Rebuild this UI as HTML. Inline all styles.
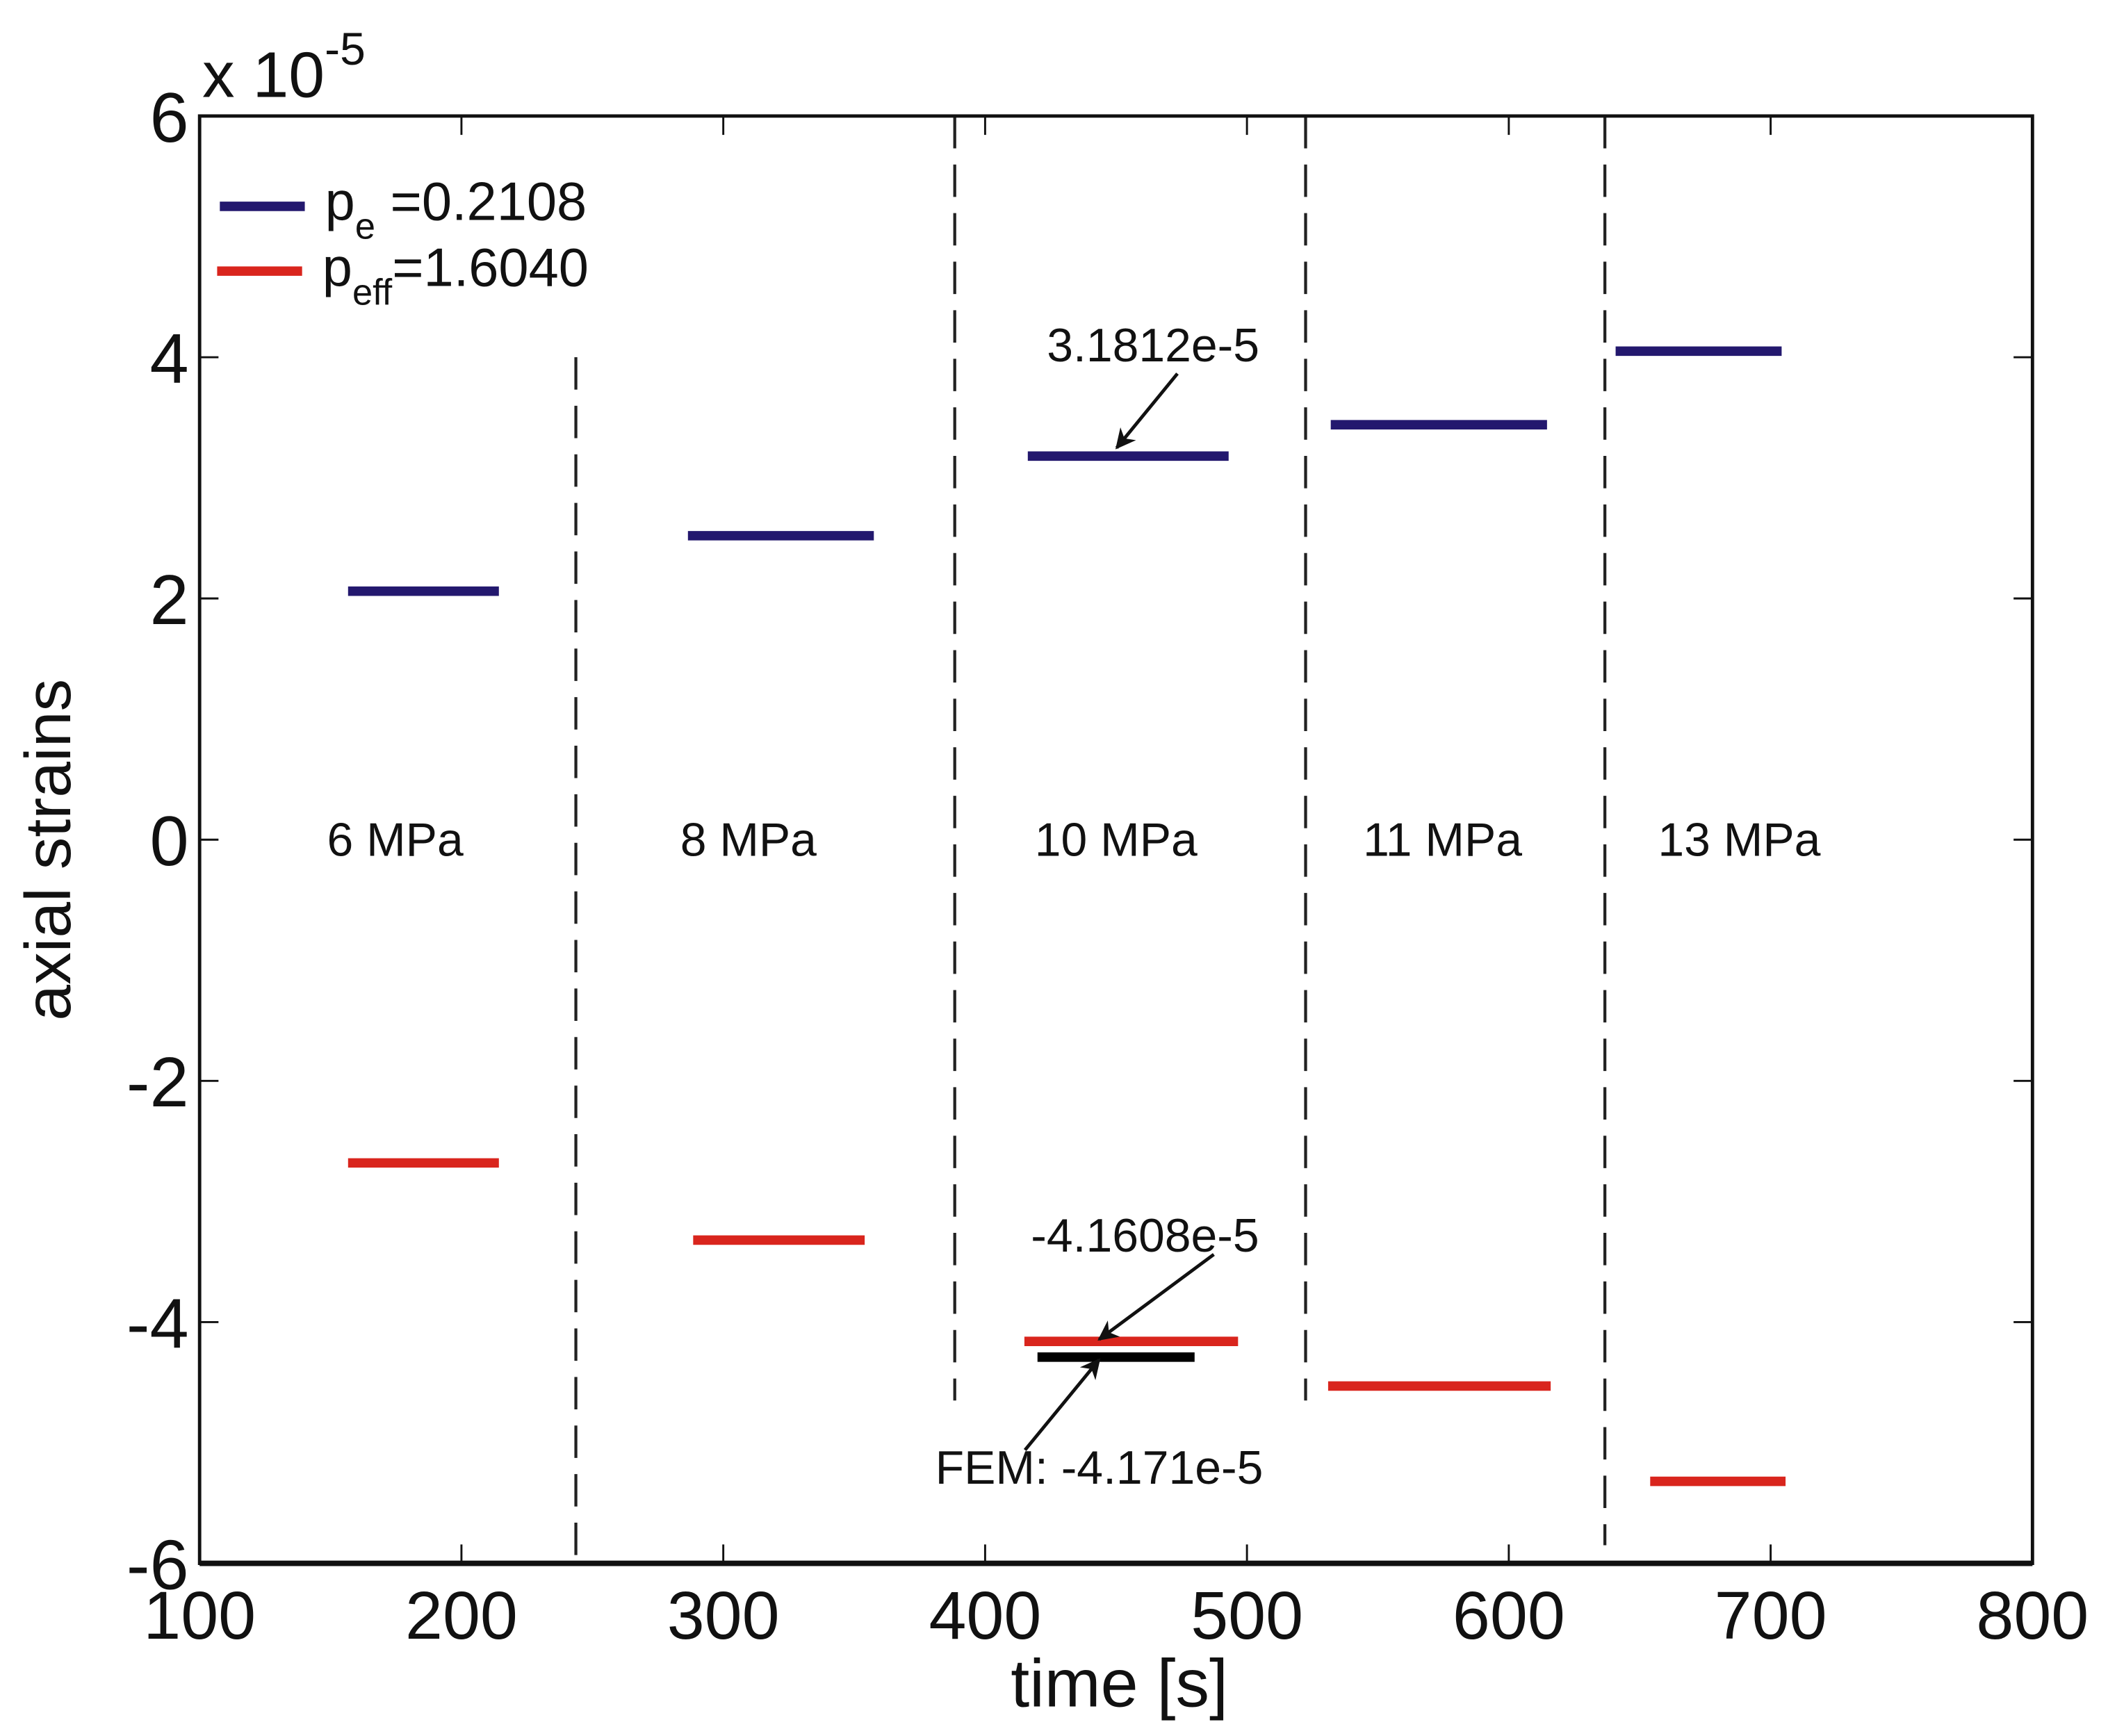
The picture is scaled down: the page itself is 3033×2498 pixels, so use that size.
<!DOCTYPE html>
<html><head><meta charset="utf-8"><style>
html,body{margin:0;padding:0;background:#fff;}
svg{display:block;}
text{font-family:"Liberation Sans",Arial,sans-serif;fill:#111;}
</style></head><body>
<svg id="chart" width="3033" height="2498" viewBox="0 0 1563 1287" preserveAspectRatio="none" xmlns="http://www.w3.org/2000/svg">
<g id="plot"></g>
</svg>
<script>
const xTicks=[100,200,300,400,500,600,700,800];
const yTicks=[-6,-4,-2,0,2,4,6];
const peStart=[156.7,286.5,416.3,532,640.8];
const peEnd=[214.3,357.5,493,614.6,704.2];
const peValues=[2.06,2.52,3.18,3.44,4.05];
const peffStart=[156.7,288.5,415,531,654];
const peffEnd=[214.3,354,496.6,616,705.7];
const peffValues=[-2.68,-3.32,-4.16,-4.53,-5.32];
const femStart=[420];
const femEnd=[480];
const femValues=[-4.29];
const dividerX=[243.7,388.4,522.4,636.7];
const dividerTop=[4,6,6,6];
const dividerBottom=[-6,-4.65,-4.65,-5.85];
const stageLabels=["6 MPa","8 MPa","10 MPa","11 MPa","13 MPa"];
const stageLabelX=[174.7,309.6,450,574.7,688];

const L=148,R=1507,T=86,B=1159;
const sx=v=>L+(v-100)/700*(R-L);
const sy=v=>T+(6-v)/12*(B-T);
const NS="http://www.w3.org/2000/svg";
const g=document.getElementById('plot');
function mk(tag,attrs,parent){const e=document.createElementNS(NS,tag);for(const k in attrs)e.setAttribute(k,attrs[k]);(parent||g).appendChild(e);return e;}

dividerX.forEach((x,i)=>{
  const l=mk('line',{x1:sx(x),x2:sx(x),y1:sy(dividerTop[i]),y2:sy(dividerBottom[i]),stroke:'#222','stroke-width':2.2,'stroke-dasharray':'24,12'});
  
  
});
stageLabels.forEach((s,i)=>{
  const t=mk('text',{x:sx(stageLabelX[i]),y:sy(0)+12,'font-size':35,'text-anchor':'middle'});
  t.textContent=s;
  
  
});
function series(st,en,vals,color,name){
  vals.forEach((v,i)=>{
    const l=mk('line',{x1:sx(st[i]),x2:sx(en[i]),y1:sy(v),y2:sy(v),stroke:color,'stroke-width':7});
    
    
  });
}
series(peStart,peEnd,peValues,'#23186e','pe');
series(peffStart,peffEnd,peffValues,'#d9251d','peff');
series(femStart,femEnd,femValues,'#000','fem');

const box=mk('rect',{x:L,y:T,width:R-L,height:B-T,fill:'none',stroke:'#111','stroke-width':2.5});


mk('line',{x1:L,x2:R,y1:B,y2:B,stroke:'#111','stroke-width':4});
xTicks.forEach(v=>{
  mk('line',{x1:sx(v),x2:sx(v),y1:B,y2:B-14,stroke:'#111','stroke-width':1.5});
  mk('line',{x1:sx(v),x2:sx(v),y1:T,y2:T+14,stroke:'#111','stroke-width':1.5});
  const t=mk('text',{x:sx(v),y:B+56,'font-size':50,'text-anchor':'middle'});
  t.textContent=v;
  
  
});
yTicks.forEach(v=>{
  mk('line',{x1:L,x2:L+14,y1:sy(v),y2:sy(v),stroke:'#111','stroke-width':1.5});
  mk('line',{x1:R,x2:R-14,y1:sy(v),y2:sy(v),stroke:'#111','stroke-width':1.5});
  const t=mk('text',{x:L-8,y:sy(v)+19,'font-size':52,'text-anchor':'end'});
  t.textContent=v;
  
  
});
</script>
<svg style="position:absolute;left:0;top:0" width="3033" height="2498" viewBox="0 0 1563 1287" preserveAspectRatio="none" xmlns="http://www.w3.org/2000/svg">
<defs><marker id="ah2" viewBox="0 0 10 10" refX="9" refY="5" markerWidth="6" markerHeight="6" orient="auto"><path d="M0,0 L10,5 L0,10 L3,5 z" fill="#111"/></marker></defs>
<text x="150" y="72" font-size="48">x 10<tspan dy="-24" font-size="34">-5</tspan></text>
<text x="830" y="1265" font-size="50" text-anchor="middle">time [s]</text>
<text transform="translate(52,630) rotate(-90)" font-size="48" text-anchor="middle">axial strains</text>
<g>
<line x1="163" x2="226" y1="153" y2="153" stroke="#23186e" stroke-width="7"/>
<text x="241" y="163" font-size="40">p<tspan dy="14" font-size="27">e</tspan><tspan dy="-14"> =0.2108</tspan></text>
<line x1="161" x2="224" y1="201" y2="201" stroke="#d9251d" stroke-width="7"/>
<text x="239" y="212" font-size="40">p<tspan dy="14" font-size="27">eff</tspan><tspan dy="-14">=1.6040</tspan></text>
</g>
<text x="855" y="268" font-size="35" text-anchor="middle">3.1812e-5</text>
<line x1="873" y1="277" x2="828" y2="332" stroke="#111" stroke-width="2.5" marker-end="url(#ah2)"/>
<text x="849" y="928" font-size="35" text-anchor="middle">-4.1608e-5</text>
<line x1="900" y1="930" x2="815" y2="993" stroke="#111" stroke-width="2.5" marker-end="url(#ah2)"/>
<text x="815" y="1100" font-size="35" text-anchor="middle">FEM: -4.171e-5</text>
<line x1="760" y1="1075" x2="815" y2="1008" stroke="#111" stroke-width="2.5" marker-end="url(#ah2)"/>
</svg>
</body></html>
